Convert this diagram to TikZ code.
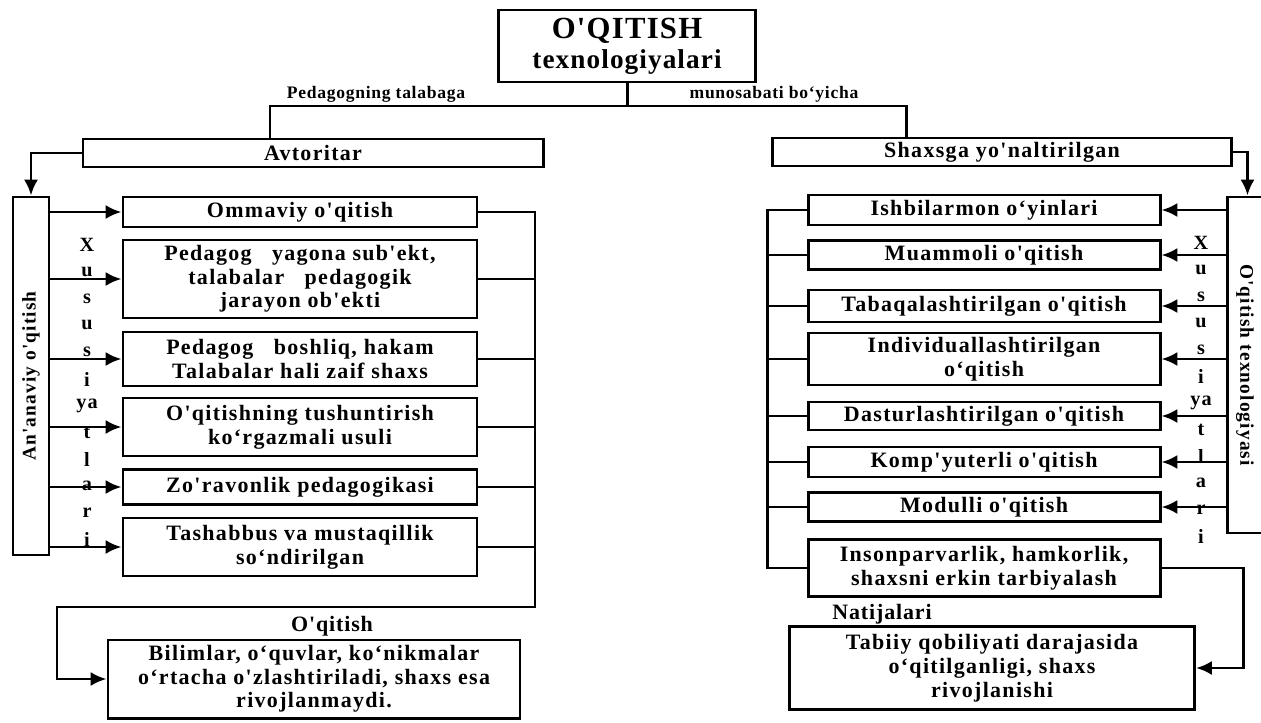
\documentclass[tikz,border=0pt]{standalone}
\usepackage{fontspec}
\setmainfont{Liberation Serif}
\newfontfamily\boxfont[LetterSpace=6]{Liberation Serif}
\newfontfamily\lblfont[LetterSpace=4]{Liberation Serif}
\usetikzlibrary{arrows.meta,calc}
\newlength\pxu
\setlength\pxu{0.02cm}
\tikzset{
  box/.style={draw,line width=1.7pt,align=center,inner sep=1pt,
    font=\boxfont\bfseries\fontsize{12.5}{13.5}\selectfont},
  lbox/.style={box,minimum width=354\pxu},
  rbox/.style={box,minimum width=352\pxu},
  title/.style={box,minimum width=257\pxu,minimum height=72\pxu,
    font=\lblfont\bfseries\fontsize{17.5}{17}\selectfont},
  wire/.style={line width=1.7pt,line cap=rect},
  arr/.style={line width=1.7pt,-{Latex[length=9pt,width=8pt]}},
  lbl/.style={inner sep=1pt,font=\lblfont\bfseries\fontsize{10}{11}\selectfont},
  letter/.style={inner sep=0pt,font=\boxfont\bfseries\fontsize{11.5}{12}\selectfont},
  sidetext/.style={inner sep=0pt,font=\boxfont\bfseries\fontsize{11}{12}\selectfont}
}
\begin{document}
\begin{tikzpicture}[x=0.02cm,y=-0.02cm]
  \useasboundingbox (0,0) rectangle (1261,723);
  \clip (0,0) rectangle (1261,723);
  % title and the two groups
  \node[title] (top) at (627,46) {O'QITISH\\{\fontsize{15.5}{17}\selectfont texnologiyalari}};
  \node[lbl] (lblL) at (376,94) {Pedagogning talabaga};
  \node[lbl] (lblR) at (774,94) {munosabati bo‘yicha};
  \node[box,minimum width=460\pxu,minimum height=28\pxu] (avt) at (313,153) {Avtoritar};
  \node[box,minimum width=459\pxu,minimum height=28\pxu] (shx) at (1002,152) {Shaxsga yo'naltirilgan};
  \coordinate (jl) at (270,106);
  \coordinate (jr) at (906,106);
  \draw[wire] (top.south) -- (top.south |- jl); % stem
  \draw[wire] (jl) -- (jr); % bar
  \draw[wire] (jl) -- (jl |- avt.north);
  \draw[wire] (jr) -- (jr |- shx.north);

  % side boxes
  \node[box,minimum width=36\pxu,minimum height=358\pxu] (anan) at (31,376) {};
  \node[sidetext,rotate=90] (ananT) at (anan.center) {An'anaviy o'qitish};
  \node[box,minimum width=41\pxu,minimum height=336\pxu] (tech) at (1247.5,365) {};
  \node[sidetext,rotate=-90] (techT) at (1245,365) {O'qitish texnologiyasi};
  \draw[arr] (avt.west) -| (anan.north); % Avtoritar -> An'anaviy
  \draw[arr] (shx.east) -| (tech.north); % Shaxsga -> texnologiyasi

  % left column
  \node[lbox,minimum height=30\pxu] (o1) at (300,212) {Ommaviy o'qitish};
  \node[lbox,minimum height=78\pxu] (o2) at (300,279) {Pedagog \ \ yagona sub'ekt,\\talabalar \ \ pedagogik\\jarayon ob'ekti};
  \node[lbox,minimum height=54\pxu] (o3) at (300,359) {Pedagog \ \ boshliq, hakam\\Talabalar hali zaif shaxs};
  \node[lbox,minimum height=58\pxu] (o4) at (300,427) {O'qitishning tushuntirish\\ko‘rgazmali usuli};
  \node[lbox,minimum height=35\pxu] (o5) at (300,487) {Zo'ravonlik pedagogikasi};
  \node[lbox,minimum height=58\pxu] (o6) at (300,547) {Tashabbus va mustaqillik\\so‘ndirilgan};
  \foreach \ch [count=\k] in {X,u,s,u,s,i,ya,t,l,a,r,i}
    \node[letter] (xl\k) at (87,{245+26.8*(\k-1)}) {\ch};
  \coordinate (busL) at (535,607);
  \coordinate (cornL) at (57,607);
  \foreach \k in {1,...,6}{
    \draw[arr] (anan.east |- o\k.west) -- (o\k.west); % to item
    \draw[wire] (o\k.east) -- (o\k.east -| busL); % to bus
  }
  \draw[wire] (o1.east -| busL) -- (busL);
  \node[lbl,font=\lblfont\bfseries\fontsize{12.5}{13}\selectfont] (resL) at (332,626) {O'qitish};
  \node[lbox,minimum width=412\pxu,minimum height=78\pxu] (res) at (314,679) {Bilimlar, o‘quvlar, ko‘nikmalar\\o‘rtacha o'zlashtiriladi, shaxs esa\\rivojlanmaydi.};
  \draw[arr] (busL) -- (cornL) |- (res.west);

  % right column
  \node[rbox,minimum height=30\pxu] (r1) at (984,210) {Ishbilarmon o‘yinlari};
  \node[rbox,minimum height=29\pxu] (r2) at (984,255) {Muammoli o'qitish};
  \node[rbox,minimum height=32\pxu] (r3) at (984,306) {Tabaqalashtirilgan o'qitish};
  \node[rbox,minimum height=52\pxu] (r4) at (984,359) {Individuallashtirilgan\\o‘qitish};
  \node[rbox,minimum height=28\pxu] (r5) at (984,416) {Dasturlashtirilgan o'qitish};
  \node[rbox,minimum height=30\pxu] (r6) at (984,462) {Komp'yuterli o'qitish};
  \node[rbox,minimum height=29\pxu] (r7) at (984,507) {Modulli o'qitish};
  \node[rbox,minimum height=57\pxu] (r8) at (984,568) {Insonparvarlik, hamkorlik,\\shaxsni erkin tarbiyalash};
  \foreach \ch [count=\k] in {X,u,s,u,s,i,ya,t,l,a,r,i}
    \node[letter] (xr\k) at (1201,{243+26.7*(\k-1)}) {\ch};
  \coordinate (busR) at (767,210);
  \foreach \k in {1,...,7}
    \draw[arr] (tech.west |- r\k.east) -- (r\k.east); % from texnologiyasi
  \foreach \k in {1,...,8}
    \draw[wire] (r\k.west) -- (r\k.west -| busR);
  \draw[wire] (r1.west -| busR) -- (r8.west -| busR);
  \node[lbl,font=\lblfont\bfseries\fontsize{12.5}{13}\selectfont] (natL) at (882,614) {Natijalari};
  \node[box,minimum width=405\pxu,minimum height=83\pxu] (nat) at (992,668) {Tabiiy qobiliyati darajasida\\o‘qitilganligi, shaxs\\rivojlanishi};
  \coordinate (cornR) at (1243,568);
  \draw[arr] (r8.east) -- (cornR) |- (nat.east);
\end{tikzpicture}
\end{document}
